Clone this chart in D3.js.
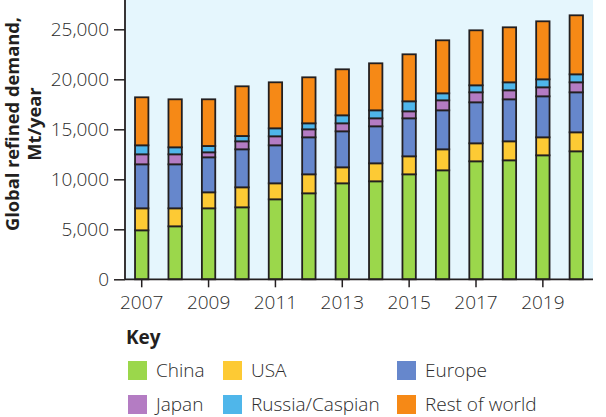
<!DOCTYPE html>
<html>
<head>
<meta charset="utf-8">
<script src="https://cdn.jsdelivr.net/npm/d3@7"></script>
<style>
  html, body { margin: 0; padding: 0; background: #ffffff; }
  svg { display: block; font-family: "Open Sans", "Noto Sans", sans-serif; }
</style>
</head>
<body>
<div id="chart"></div>
<script>
const years = [2007, 2008, 2009, 2010, 2011, 2012, 2013, 2014, 2015, 2016, 2017, 2018, 2019, 2020];
const seriesNames = ["China", "USA", "Europe", "Japan", "Russia/Caspian", "Rest of world"];
const china   = [4900, 5300, 7100, 7200, 8000, 8600, 9600, 9800, 10500, 10900, 11800, 11900, 12400, 12800];
const usa     = [2200, 1800, 1600, 2000, 1600, 1900, 1600, 1800, 1800, 2100, 1800, 1900, 1800, 1900];
const europe  = [4400, 4400, 3500, 3800, 3800, 3700, 3600, 3700, 3800, 3900, 4100, 4200, 4100, 4000];
const japan   = [1000, 1000, 500, 800, 900, 800, 800, 800, 700, 1000, 1000, 900, 900, 1000];
const russia  = [900, 700, 630, 530, 800, 600, 800, 800, 1000, 700, 700, 800, 800, 800];
const rest    = [4800, 4800, 4670, 4970, 4600, 4600, 4600, 4700, 4700, 5300, 5500, 5500, 5800, 5900];
const yTicks = [0, 5000, 10000, 15000, 20000, 25000];
const xTickYears = [2007, 2009, 2011, 2013, 2015, 2017, 2019];
const colors = ["#9BD74B", "#FDCA34", "#6687CC", "#B47CC3", "#4FB6EA", "#F68916"];

const seriesValues = [china, usa, europe, japan, russia, rest];
const table = years.map((yr, i) => {
  const row = { year: yr };
  seriesNames.forEach((n, k) => row[n] = seriesValues[k][i]);
  return row;
});

const W = 606, H = 417;
const pLeft = 125, pRight = 593, pTop = 0, pBottom = 279.3;
const ink = "#231F20";
const txt = "#2b2b2b";

const svg = d3.select("#chart").append("svg").attr("width", W).attr("height", H);

const x = d3.scaleBand().domain(years).range([pLeft, pRight]).paddingInner(0.6).paddingOuter(0.3);
const y = d3.scaleLinear().domain([0, 25000]).range([pBottom, 29.3]);

svg.append("rect").attr("x", pLeft).attr("y", pTop).attr("width", pRight - pLeft).attr("height", pBottom - pTop)
  .attr("fill", "#E5F6FD");

const stack = d3.stack().keys(seriesNames);
const layers = stack(table);

svg.append("g").selectAll("g").data(layers).join("g")
  .attr("fill", (d, i) => colors[i])
  .selectAll("rect").data(d => d).join("rect")
  .attr("x", d => x(d.data.year))
  .attr("width", x.bandwidth())
  .attr("y", d => y(d[1]))
  .attr("height", d => y(d[0]) - y(d[1]))
  .attr("stroke", ink).attr("stroke-width", 1.8);

// Y axis
const yAxis = svg.append("g").attr("transform", `translate(${pLeft},0)`)
  .call(d3.axisLeft(y).tickValues(yTicks).tickFormat(d3.format(",")).tickSize(11).tickPadding(5));
yAxis.select(".domain").remove();
yAxis.selectAll("line").attr("stroke", ink).attr("stroke-width", 1.5);
yAxis.selectAll("text").attr("fill", txt).style("font-size", "19px").style("font-family", "'Open Sans'").style("font-weight", 300);
svg.append("line").attr("x1", pLeft).attr("x2", pLeft).attr("y1", pTop).attr("y2", pBottom)
  .attr("stroke", ink).attr("stroke-width", 1.8);

// X axis
const xAxis = svg.append("g").attr("transform", `translate(0,${pBottom})`)
  .call(d3.axisBottom(x).tickValues(xTickYears).tickSize(8).tickPadding(8));
xAxis.select(".domain").remove();
xAxis.selectAll("line").attr("stroke", ink).attr("stroke-width", 1.5);
xAxis.selectAll("text").attr("fill", txt).style("font-size", "19px").style("font-family", "'Open Sans'").style("font-weight", 300);
svg.append("line").attr("x1", pLeft).attr("x2", pRight).attr("y1", pBottom).attr("y2", pBottom)
  .attr("stroke", ink).attr("stroke-width", 1.8);

// Y title
const title = svg.append("text").attr("transform", "translate(0,124) rotate(-90)")
  .attr("text-anchor", "middle").attr("font-weight", "bold").attr("font-size", "18.3px").attr("fill", ink);
title.append("tspan").attr("x", 0).attr("y", 19).text("Global refined demand,");
title.append("tspan").attr("x", 0).attr("y", 41).text("Mt/year");

// Legend
svg.append("text").attr("x", 126).attr("y", 344).attr("font-weight", "bold").attr("font-size", "19px")
  .attr("fill", ink).text("Key");
const legendPos = [[128, 361], [223, 361], [397, 361], [128, 395], [223, 395], [397, 395]];
const lg = svg.append("g").selectAll("g").data(seriesNames).join("g")
  .attr("transform", (d, i) => `translate(${legendPos[i][0]},${legendPos[i][1]})`);
lg.append("rect").attr("width", 19).attr("height", 19).attr("fill", (d, i) => colors[i]);
lg.append("text").attr("x", 28).attr("y", 16).attr("font-size", "19px").attr("font-weight", 300)
  .attr("fill", txt).text(d => d);
</script>
</body>
</html>
